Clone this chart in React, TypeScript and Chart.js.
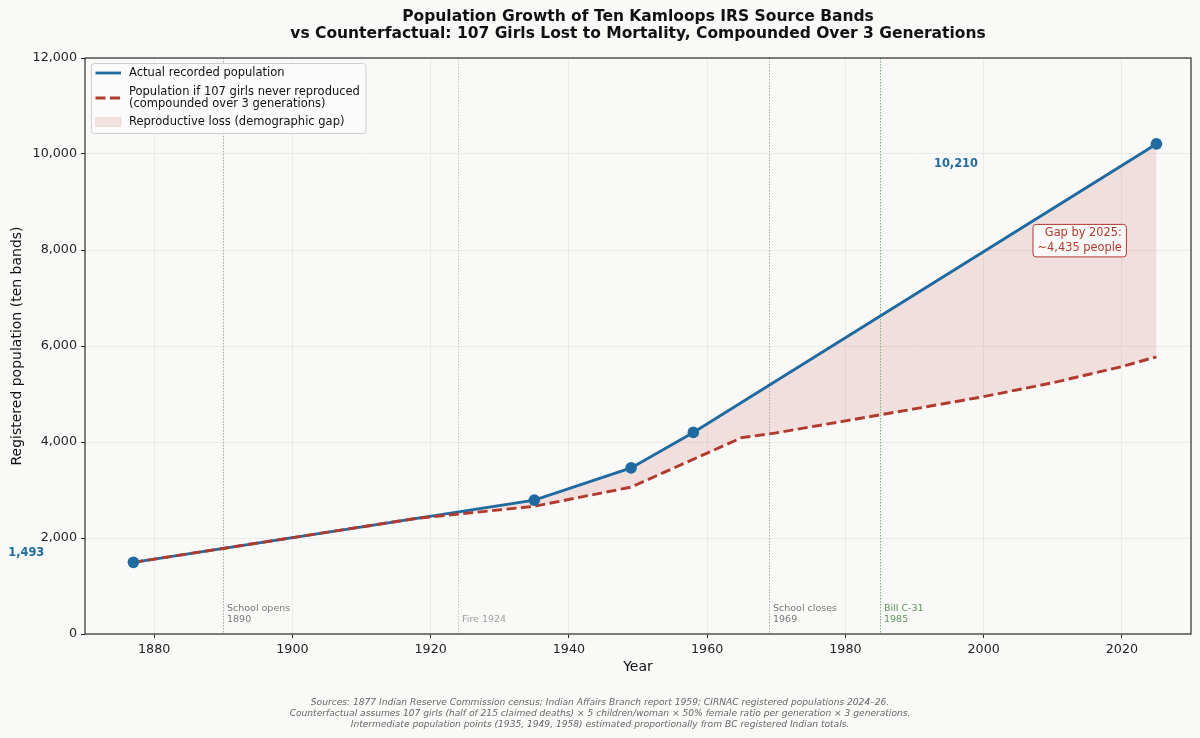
import React, { useEffect, useRef } from "react";
import { Chart, registerables } from "chart.js";

Chart.register(...registerables);

// ---- data ----
const actualYears = [1877, 1935, 1949, 1958, 2025];
const actualPopulation = [1493, 2790, 3460, 4200, 10210];

const counterYears = [1877, 1918, 1935, 1949, 1965, 1970, 1980, 1990, 2000, 2010, 2020, 2025];
const counterPopulation = [1493, 2410, 2660, 3060, 4090, 4190, 4440, 4690, 4945, 5235, 5570, 5775];

const yearTicks = [1880, 1900, 1920, 1940, 1960, 1980, 2000, 2020];
const populationTicks = [0, 2000, 4000, 6000, 8000, 10000, 12000];

const eventYears = [1890, 1924, 1969, 1985];
const eventLabels = [["School opens", "1890"], ["Fire 1924"], ["School closes", "1969"], ["Bill C-31", "1985"]];
const eventKinds = ["school", "fire", "school", "law"];

const titleLines = [
  "Population Growth of Ten Kamloops IRS Source Bands",
  "vs Counterfactual: 107 Girls Lost to Mortality, Compounded Over 3 Generations",
];
const footnoteLines = [
  "Sources: 1877 Indian Reserve Commission census; Indian Affairs Branch report 1959; CIRNAC registered populations 2024\u201326.",
  "Counterfactual assumes 107 girls (half of 215 claimed deaths) \u00d7 5 children/woman \u00d7 50% female ratio per generation \u00d7 3 generations.",
  "Intermediate population points (1935, 1949, 1958) estimated proportionally from BC registered Indian totals.",
];
const legendLabels = [
  ["Actual recorded population"],
  ["Population if 107 girls never reproduced", "(compounded over 3 generations)"],
  ["Reproductive loss (demographic gap)"],
];

// ---- styling ----
const FONT = "'DejaVu Sans', 'Noto Sans', sans-serif";
const BG = "#f9f9f7";
const BLUE = "#1f6aa0";
const RED = "#b03a2e";
const GAP_FILL = "rgba(192, 57, 43, 0.13)";
const DASH = [10, 4.5];
const eventStyle: Record<string, { line: string; text: string }> = {
  school: { line: "#a8a8a8", text: "#777777" },
  fire: { line: "#c4c4c4", text: "#a0a0a0" },
  law: { line: "#7fae7f", text: "#5a935a" },
};

const fmt = (v: number) => v.toLocaleString("en-US");

function roundRect(ctx: CanvasRenderingContext2D, x: number, y: number, w: number, h: number, r: number) {
  ctx.beginPath();
  ctx.moveTo(x + r, y);
  ctx.lineTo(x + w - r, y);
  ctx.arcTo(x + w, y, x + w, y + r, r);
  ctx.lineTo(x + w, y + h - r);
  ctx.arcTo(x + w, y + h, x + w - r, y + h, r);
  ctx.lineTo(x + r, y + h);
  ctx.arcTo(x, y + h, x, y + h - r, r);
  ctx.lineTo(x, y + r);
  ctx.arcTo(x, y, x + r, y, r);
  ctx.closePath();
}

const decorations = {
  id: "decorations",
  beforeDraw(chart: any) {
    const ctx = chart.ctx as CanvasRenderingContext2D;
    ctx.save();
    ctx.fillStyle = BG;
    ctx.fillRect(0, 0, chart.width, chart.height);
    ctx.restore();
  },
  beforeDatasetsDraw(chart: any) {
    const ctx = chart.ctx as CanvasRenderingContext2D;
    const { top, bottom } = chart.chartArea;
    const xs = chart.scales.x;
    const ys = chart.scales.y;
    ctx.save();
    eventYears.forEach((yr, i) => {
      const st = eventStyle[eventKinds[i]];
      const px = Math.round(xs.getPixelForValue(yr)) + 0.5;
      ctx.strokeStyle = st.line;
      ctx.lineWidth = 1;
      ctx.setLineDash([1.5, 1.5]);
      ctx.beginPath();
      ctx.moveTo(px, top);
      ctx.lineTo(px, bottom);
      ctx.stroke();
      ctx.setLineDash([]);
      const lines = eventLabels[i];
      const anchor = ys.getPixelForValue(200);
      ctx.fillStyle = st.text;
      ctx.font = `9.5px ${FONT}`;
      ctx.textAlign = "left";
      ctx.textBaseline = "middle";
      lines.forEach((t, j) => {
        const y = anchor - 4.8 - (lines.length - 1 - j) * 11.4;
        ctx.fillText(t, px + 3.5, y);
      });
    });
    ctx.restore();
  },
  afterDraw(chart: any) {
    const ctx = chart.ctx as CanvasRenderingContext2D;
    const { left, right, top, bottom } = chart.chartArea;
    const xs = chart.scales.x;
    const ys = chart.scales.y;
    ctx.save();

    // frame
    ctx.strokeStyle = "#1a1a1a";
    ctx.lineWidth = 1.1;
    ctx.strokeRect(left, top, right - left, bottom - top);

    // title
    ctx.fillStyle = "#111111";
    ctx.font = `bold 15.5px ${FONT}`;
    ctx.textAlign = "center";
    ctx.textBaseline = "middle";
    const cx = (left + right) / 2;
    ctx.fillText(titleLines[0], cx, 17);
    ctx.fillText(titleLines[1], cx, 33.5);

    // axis titles
    ctx.font = `14px ${FONT}`;
    ctx.fillStyle = "#111111";
    ctx.fillText("Year", cx, 667);
    ctx.save();
    ctx.translate(17, (top + bottom) / 2);
    ctx.rotate(-Math.PI / 2);
    ctx.fillText("Registered population (ten bands)", 0, 0);
    ctx.restore();

    // value labels
    const n = actualPopulation.length - 1;
    ctx.font = `bold 11.4px ${FONT}`;
    ctx.fillStyle = BLUE;
    ctx.textAlign = "center";
    ctx.fillText(fmt(actualPopulation[0]), xs.getPixelForValue(1861.5), ys.getPixelForValue(actualPopulation[0] + 195));
    ctx.fillText(fmt(actualPopulation[n]), xs.getPixelForValue(1996), ys.getPixelForValue(actualPopulation[n] - 420));

    // gap callout
    const gap = actualPopulation[n] - counterPopulation[counterPopulation.length - 1];
    const gapLines = ["Gap by 2025:", `~${fmt(gap)} people`];
    ctx.font = `11.4px ${FONT}`;
    const gx = xs.getPixelForValue(2020);
    const gy = ys.getPixelForValue(8200);
    const tw = Math.max(...gapLines.map((t) => ctx.measureText(t).width));
    ctx.fillStyle = "rgba(252,252,251,0.9)";
    roundRect(ctx, gx - tw - 4.5, gy - 16, tw + 9, 32.5, 3);
    ctx.fill();
    ctx.strokeStyle = RED;
    ctx.lineWidth = 1;
    ctx.stroke();
    ctx.fillStyle = RED;
    ctx.textAlign = "right";
    ctx.fillText(gapLines[0], gx, gy - 7.3);
    ctx.fillText(gapLines[1], gx, gy + 7.3);

    // legend
    const lx = 91.5, ly = 63.5, lw = 274.5, lh = 70;
    ctx.fillStyle = "rgba(252,252,251,0.85)";
    roundRect(ctx, lx, ly, lw, lh, 3);
    ctx.fill();
    ctx.strokeStyle = "#cfcfcf";
    ctx.lineWidth = 1;
    ctx.stroke();
    ctx.font = `11.5px ${FONT}`;
    ctx.textAlign = "left";
    ctx.fillStyle = "#111111";
    const sx0 = 95.5, sx1 = 121, tx = 129;
    // solid line entry
    ctx.strokeStyle = BLUE;
    ctx.lineWidth = 2.8;
    ctx.beginPath();
    ctx.moveTo(sx0, 73);
    ctx.lineTo(sx1, 73);
    ctx.stroke();
    ctx.fillText(legendLabels[0][0], tx, 73.5);
    // dashed entry
    ctx.strokeStyle = RED;
    ctx.setLineDash(DASH);
    ctx.beginPath();
    ctx.moveTo(sx0, 98);
    ctx.lineTo(sx1 + 1, 98);
    ctx.stroke();
    ctx.setLineDash([]);
    ctx.fillText(legendLabels[1][0], tx, 92);
    ctx.fillText(legendLabels[1][1], tx, 104.5);
    // fill entry
    ctx.fillStyle = GAP_FILL;
    ctx.fillRect(sx0, 117.5, sx1 - sx0, 9);
    ctx.strokeStyle = "rgba(192, 57, 43, 0.10)";
    ctx.lineWidth = 1;
    ctx.strokeRect(sx0, 117.5, sx1 - sx0, 9);
    ctx.fillStyle = "#111111";
    ctx.fillText(legendLabels[2][0], tx, 122.5);

    // footnotes
    ctx.font = `italic 9.1px ${FONT}`;
    ctx.fillStyle = "#666666";
    ctx.textAlign = "center";
    footnoteLines.forEach((t, i) => ctx.fillText(t, 600, 703 + i * 10.6));

    ctx.restore();
  },
};

export default function App() {
  const canvasRef = useRef<HTMLCanvasElement | null>(null);

  useEffect(() => {
    const canvas = canvasRef.current;
    if (!canvas) return;

    const actualPoints = actualYears.map((x, i) => ({ x, y: actualPopulation[i] }));
    const counterPoints = counterYears.map((x, i) => ({ x, y: counterPopulation[i] }));

    const chart = new Chart(canvas, {
      type: "line",
      data: {
        datasets: [
          {
            label: "markers",
            data: actualPoints,
            showLine: false,
            pointRadius: 5.8,
            pointBackgroundColor: BLUE,
            pointBorderColor: BLUE,
            pointBorderWidth: 0,
            order: 0,
          },
          {
            label: "Population if 107 girls never reproduced",
            data: counterPoints,
            borderColor: RED,
            borderWidth: 2.9,
            borderDash: DASH,
            pointRadius: 0,
            tension: 0,
            fill: 2,
            backgroundColor: GAP_FILL,
            order: 1,
          },
          {
            label: "Actual recorded population",
            data: actualPoints,
            borderColor: BLUE,
            borderWidth: 2.9,
            pointRadius: 0,
            tension: 0,
            fill: false,
            order: 2,
          },
        ],
      },
      options: {
        responsive: false,
        devicePixelRatio: 1,
        animation: false,
        events: [],
        layout: { padding: { top: 58, left: 0, right: 9, bottom: 0 } },
        plugins: {
          legend: { display: false },
          title: { display: false },
          tooltip: { enabled: false },
          filler: { drawTime: "beforeDatasetsDraw" },
        },
        scales: {
          x: {
            type: "linear",
            min: 1870,
            max: 2030,
            afterBuildTicks: (s: any) => {
              s.ticks = yearTicks.map((value) => ({ value }));
            },
            afterFit: (s: any) => {
              s.height = 104;
            },
            ticks: {
              callback: (v: any) => String(v),
              font: { family: FONT, size: 12.7 },
              color: "#222222",
              padding: 4,
              maxRotation: 0,
              autoSkip: false,
            },
            grid: { color: "#e7e7e5", lineWidth: 0.8, tickColor: "#222222", tickLength: 4, tickWidth: 1 },
            border: { display: false },
          },
          y: {
            type: "linear",
            min: 0,
            max: 12000,
            afterBuildTicks: (s: any) => {
              s.ticks = populationTicks.map((value) => ({ value }));
            },
            afterFit: (s: any) => {
              s.width = 85;
            },
            ticks: {
              callback: (v: any) => fmt(Number(v)),
              font: { family: FONT, size: 12.7 },
              color: "#222222",
              padding: 4,
              autoSkip: false,
            },
            grid: { color: "#e7e7e5", lineWidth: 0.8, tickColor: "#222222", tickLength: 4, tickWidth: 1 },
            border: { display: false },
          },
        },
      } as any,
      plugins: [decorations],
    });

    return () => chart.destroy();
  }, []);

  return (
    <div style={{ position: "absolute", left: 0, top: 0, width: 1200, height: 738, background: BG }}>
      <canvas ref={canvasRef} width={1200} height={738} style={{ display: "block" }} />
    </div>
  );
}
